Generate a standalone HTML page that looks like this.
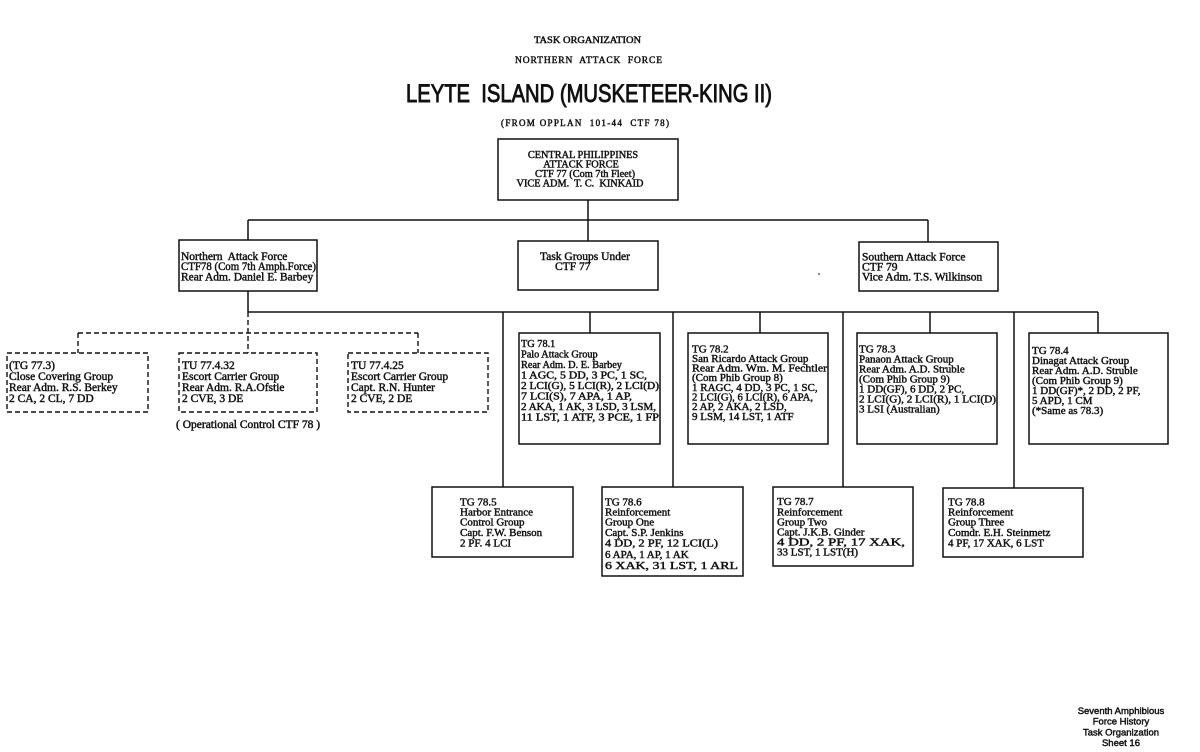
<!DOCTYPE html>
<html><head><meta charset="utf-8"><style>
html,body{margin:0;padding:0;background:#fff;}
svg{display:block;}
text{font-family:"Liberation Serif",serif;fill:#111;stroke:#111;stroke-width:0.45px;white-space:pre;}
.s{font-family:"Liberation Sans",sans-serif;}
.b{font-size:11px;}
.c{font-size:10.3px;}
.d{font-size:11.5px;}
</style></head><body>
<svg width="1200" height="752" viewBox="0 0 1200 752" xmlns="http://www.w3.org/2000/svg">
<rect width="1200" height="752" fill="#fff" stroke="none"/>
<!-- titles -->
<text x="534" y="43" font-size="9.5" textLength="107" lengthAdjust="spacingAndGlyphs">TASK ORGANIZATION</text>
<text x="515" y="63" font-size="9.5" textLength="147" lengthAdjust="spacing">NORTHERN  ATTACK  FORCE</text>
<text class="s" x="406" y="102" font-size="25" textLength="366" lengthAdjust="spacingAndGlyphs" style="stroke-width:0.9px">LEYTE  ISLAND (MUSKETEER-KING II)</text>
<text x="501" y="126" font-size="9" textLength="168" lengthAdjust="spacing">(FROM OPPLAN  101-44  CTF 78)</text>

<g fill="none" stroke="#111" stroke-width="1.5">
<rect x="498" y="139" width="180" height="61"/>
<line x1="588" y1="200" x2="588" y2="241"/>
<line x1="248" y1="220" x2="928" y2="220"/>
<line x1="248" y1="220" x2="248" y2="240"/>
<line x1="928" y1="220" x2="928" y2="242"/>
<rect x="179" y="240" width="138" height="51"/>
<rect x="518" y="241" width="140" height="49"/>
<rect x="859" y="242" width="139" height="49"/>
<line x1="248" y1="291" x2="248" y2="312"/>
<line x1="248" y1="312" x2="1098" y2="312"/>
<line x1="503" y1="312" x2="503" y2="487"/>
<line x1="590" y1="312" x2="590" y2="333"/>
<line x1="673" y1="312" x2="673" y2="487"/>
<line x1="760" y1="312" x2="760" y2="333"/>
<line x1="843" y1="312" x2="843" y2="487"/>
<line x1="930" y1="312" x2="930" y2="333"/>
<line x1="1014" y1="312" x2="1014" y2="488"/>
<line x1="1098" y1="312" x2="1098" y2="333"/>
<rect x="519" y="333" width="141" height="111"/>
<rect x="688" y="333" width="140" height="111"/>
<rect x="857" y="333" width="140" height="111"/>
<rect x="1029" y="333" width="139" height="111"/>
<rect x="432" y="487" width="141" height="70"/>
<rect x="602" y="487" width="141" height="89"/>
<rect x="773" y="487" width="140" height="79"/>
<rect x="943" y="488" width="140" height="69"/>
</g>
<g fill="none" stroke="#111" stroke-width="1.4" stroke-dasharray="5,3">
<line x1="248" y1="312" x2="248" y2="353"/>
<line x1="78" y1="333" x2="418" y2="333"/>
<line x1="78" y1="333" x2="78" y2="353"/>
<line x1="418" y1="333" x2="418" y2="353"/>
<rect x="7" y="353" width="141" height="59"/>
<rect x="179" y="353" width="138" height="59"/>
<rect x="348" y="353" width="140" height="59"/>
</g>

<!-- top box text -->
<g font-size="10.3" text-anchor="middle">
<text x="583" y="158">CENTRAL PHILIPPINES</text>
<text x="581" y="167.5">ATTACK FORCE</text>
<text x="585" y="177">CTF 77 (Com 7th Fleet)</text>
<text x="580" y="186.5">VICE ADM.  T. C.  KINKAID</text>
</g>

<!-- second row text -->
<g class="d">
<text x="181" y="260">Northern  Attack Force</text>
<text x="181" y="270" textLength="135" lengthAdjust="spacingAndGlyphs">CTF78 (Com 7th Amph.Force)</text>
<text x="181" y="280.5">Rear Adm. Daniel E. Barbey</text>
<text x="540" y="260">Task Groups Under</text>
<text x="555" y="270">CTF 77</text>
<text x="862" y="260.5">Southern Attack Force</text>
<text x="862" y="270.5">CTF 79</text>
<text x="862" y="280.5">Vice Adm. T.S. Wilkinson</text>
</g>

<!-- dashed boxes text -->
<g class="d">
<text x="9" y="369">(TG 77.3)</text>
<text x="9" y="380">Close Covering Group</text>
<text x="9" y="391">Rear Adm. R.S. Berkey</text>
<text x="9" y="402">2 CA, 2 CL, 7 DD</text>
<text x="182" y="369">TU 77.4.32</text>
<text x="182" y="380">Escort Carrier Group</text>
<text x="182" y="391">Rear Adm. R.A.Ofstie</text>
<text x="182" y="402">2 CVE, 3 DE</text>
<text x="351" y="369">TU 77.4.25</text>
<text x="351" y="380">Escort Carrier Group</text>
<text x="351" y="391">Capt. R.N. Hunter</text>
<text x="351" y="402">2 CVE, 2 DE</text>
<text x="176" y="428">( Operational Control CTF 78 )</text>
</g>

<!-- TG 78.1 -->
<g class="c">
<text x="521" y="347">TG 78.1</text>
<text x="521" y="357.5">Palo Attack Group</text>
<text x="521" y="368">Rear Adm. D. E. Barbey</text>
<text x="521" y="378.5" textLength="126" lengthAdjust="spacingAndGlyphs">1 AGC, 5 DD, 3 PC, 1 SC,</text>
<text x="521" y="389" textLength="138" lengthAdjust="spacingAndGlyphs">2 LCI(G), 5 LCI(R), 2 LCI(D)</text>
<text x="521" y="399.5" textLength="111" lengthAdjust="spacingAndGlyphs">7 LCI(S), 7 APA, 1 AP,</text>
<text x="521" y="410" textLength="135" lengthAdjust="spacingAndGlyphs">2 AKA, 1 AK, 3 LSD, 3 LSM,</text>
<text x="521" y="420.5" textLength="138" lengthAdjust="spacingAndGlyphs">11 LST, 1 ATF, 3 PCE, 1 FP</text>
</g>

<g class="b">
<text x="692" y="352.5">TG 78.2</text>
<text x="692" y="362">San Ricardo Attack Group</text>
<text x="692" y="371.5" textLength="135" lengthAdjust="spacingAndGlyphs">Rear Adm. Wm. M. Fechtler</text>
<text x="692" y="381">(Com Phib Group 8)</text>
<text x="692" y="391">1 RAGC, 4 DD, 3 PC, 1 SC,</text>
<text x="692" y="400.5" textLength="121" lengthAdjust="spacingAndGlyphs">2 LCI(G), 6 LCI(R), 6 APA,</text>
<text x="692" y="410">2 AP, 2 AKA, 2 LSD,</text>
<text x="692" y="420">9 LSM, 14 LST, 1 ATF</text>

<text x="859" y="352.5">TG 78.3</text>
<text x="859" y="362.5">Panaon Attack Group</text>
<text x="859" y="372.5">Rear Adm. A.D. Struble</text>
<text x="859" y="382.5">(Com Phib Group 9)</text>
<text x="859" y="392.5">1 DD(GF), 6 DD, 2 PC,</text>
<text x="859" y="402.5" textLength="137" lengthAdjust="spacingAndGlyphs">2 LCI(G), 2 LCI(R), 1 LCI(D)</text>
<text x="859" y="412.5">3 LSI (Australian)</text>

<text x="1032" y="354">TG 78.4</text>
<text x="1032" y="364">Dinagat Attack Group</text>
<text x="1032" y="374">Rear Adm. A.D. Struble</text>
<text x="1032" y="384">(Com Phib Group 9)</text>
<text x="1032" y="394">1 DD(GF)*, 2 DD, 2 PF,</text>
<text x="1032" y="404">5 APD, 1 CM</text>
<text x="1032" y="414">(*Same as 78.3)</text>

<!-- bottom row -->
<text x="460" y="505.5">TG 78.5</text>
<text x="460" y="515.5">Harbor Entrance</text>
<text x="460" y="525.5">Control Group</text>
<text x="460" y="536">Capt. F.W. Benson</text>
<text x="460" y="546.5">2 PF. 4 LCI</text>

<text x="605" y="505.5">TG 78.6</text>
<text x="605" y="515.5">Reinforcement</text>
<text x="605" y="525.5">Group One</text>
<text x="605" y="536">Capt. S.P. Jenkins</text>
<text x="605" y="546.5" textLength="113" lengthAdjust="spacingAndGlyphs">4 DD, 2 PF, 12 LCI(L)</text>
<text x="605" y="558">6 APA, 1 AP, 1 AK</text>
<text x="605" y="569" textLength="133" lengthAdjust="spacingAndGlyphs">6 XAK, 31 LST, 1 ARL</text>

<text x="777" y="505">TG 78.7</text>
<text x="777" y="515.5">Reinforcement</text>
<text x="777" y="525.5">Group Two</text>
<text x="777" y="535.5">Capt. J.K.B. Ginder</text>
<text x="777" y="545.5" textLength="128" lengthAdjust="spacingAndGlyphs">4 DD, 2 PF, 17 XAK,</text>
<text x="777" y="555.5">33 LST, 1 LST(H)</text>

<text x="948" y="505.5">TG 78.8</text>
<text x="948" y="515.5">Reinforcement</text>
<text x="948" y="525.5">Group Three</text>
<text x="948" y="536">Comdr. E.H. Steinmetz</text>
<text x="948" y="546.5">4 PF, 17 XAK, 6 LST</text>
</g>

<!-- footer -->
<g font-size="9.5" text-anchor="middle">
<text class="s" x="1121" y="714">Seventh Amphibious</text>
<text class="s" x="1121" y="724.5">Force History</text>
<text class="s" x="1121" y="735.5">Task Organization</text>
<text class="s" x="1121" y="746">Sheet 16</text>
</g>
<circle cx="819" cy="274" r="0.9" fill="#333"/>
</svg>
</body></html>
